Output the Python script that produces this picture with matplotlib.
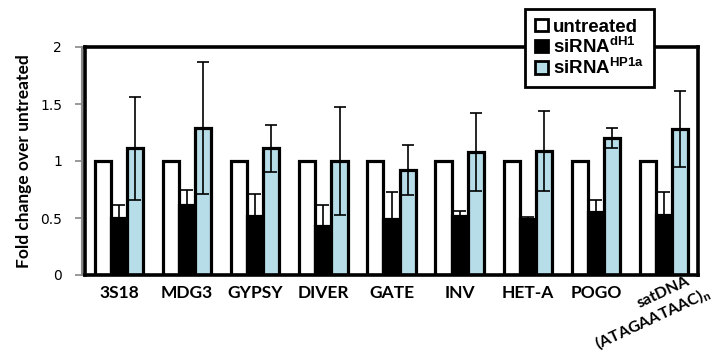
import matplotlib
matplotlib.use("Agg")
import matplotlib.pyplot as plt
import numpy as np
from matplotlib.patches import Patch

categories = ["3S18", "MDG3", "GYPSY", "DIVER", "GATE", "INV", "HET-A", "POGO", "satDNA"]
series_names = ["untreated", "siRNA$^{\\mathrm{dH1}}$", "siRNA$^{\\mathrm{HP1a}}$"]

untreated = [1, 1, 1, 1, 1, 1, 1, 1, 1]
dh1 = [0.50, 0.61, 0.52, 0.43, 0.49, 0.52, 0.49, 0.55, 0.53]
dh1_err = [0.11, 0.14, 0.19, 0.18, 0.24, 0.04, 0.02, 0.11, 0.20]
hp1a = [1.11, 1.29, 1.11, 1.00, 0.92, 1.08, 1.09, 1.20, 1.28]
hp1a_err = [0.45, 0.58, 0.21, 0.47, 0.22, 0.34, 0.35, 0.09, 0.33]

yticks = [0, 0.5, 1, 1.5, 2]
ytick_labels = ["0", "0.5", "1", "1.5", "2"]
ylabel = "Fold change over untreated"
sat_lines = ["satDNA", "(ATAGAATAAC)$_{\\mathrm{n}}$"]

plt.rcParams["mathtext.fontset"] = "custom"
plt.rcParams["mathtext.rm"] = "Liberation Sans:bold"
plt.rcParams["mathtext.it"] = "Liberation Sans:bold"
plt.rcParams["mathtext.bf"] = "Liberation Sans:bold"

fig = plt.figure(figsize=(7.15, 3.53), dpi=100)
ax = fig.add_axes([85 / 715, 78 / 353, 613 / 715, 228 / 353])

x = np.arange(len(categories))
w = 0.237
blue = "#b7dde8"
edge_lw = 2.3

ax.bar(x - w, untreated, w, color="white", edgecolor="black", linewidth=edge_lw, zorder=2)
ax.bar(x, dh1, w, color="black", edgecolor="black", linewidth=edge_lw, zorder=2)
ax.bar(x + w, hp1a, w, color=blue, edgecolor="black", linewidth=edge_lw, zorder=2)

ekw = dict(fmt="none", ecolor="black", elinewidth=1.2, capsize=4.6, capthick=1.2, zorder=3)
ax.errorbar(x, dh1, yerr=dh1_err, **ekw)
ax.errorbar(x + w, hp1a, yerr=hp1a_err, **ekw)

ax.set_xlim(-0.5, len(categories) - 0.5)
ax.set_ylim(0, 2)
ax.set_yticks(yticks)
ax.set_yticklabels(ytick_labels, family="Lato", fontsize=13.5)
ax.set_xticks(x[:-1])
ax.set_xticklabels(categories[:-1], family="Lato", fontweight="bold", fontsize=12.5)
ax.tick_params(axis="x", length=0, pad=7)
ax.tick_params(axis="y", length=5, width=1.2, color="#888888", pad=9)

# two-line rotated label for the last category
xt = ax.get_xaxis_transform()
for line, dx, yy in zip(sat_lines, [-0.01, -0.17], [-0.075, -0.19]):
    ax.text(x[-1] + dx, yy, line, transform=xt, rotation=25, rotation_mode="anchor",
            ha="center", va="center", family="Lato", fontweight="bold", fontsize=11.5)

ax.set_ylabel(ylabel, family="Lato", fontweight="bold", fontsize=12.5, labelpad=6)

for side in ["top", "right", "bottom"]:
    ax.spines[side].set_linewidth(2.6)
    ax.spines[side].set_color("black")
ax.spines["left"].set_color("#888888")
ax.spines["left"].set_linewidth(1.5)
ax.spines["left"].set_position(("outward", 2.5))
ax.plot([0, 0], [0, 1], transform=ax.transAxes, color="black", lw=2.6, clip_on=False, zorder=4)

handles = [Patch(facecolor=c, edgecolor="black", linewidth=2.0) for c in ["white", "black", blue]]
leg = ax.legend(handles, ["untreated", series_names[1], series_names[2]],
                loc="upper left", bbox_to_anchor=(0.718, 1.165),
                prop={"family": "Liberation Sans", "weight": "bold", "size": 13.5},
                frameon=True, fancybox=False, edgecolor="black", framealpha=1,
                handlelength=0.7, handleheight=0.65, handletextpad=0.3,
                labelspacing=0.05, borderpad=0.5, borderaxespad=0)
leg.get_frame().set_linewidth(2.0)
leg.set_zorder(10)

fig.savefig("out.png", dpi=100)
